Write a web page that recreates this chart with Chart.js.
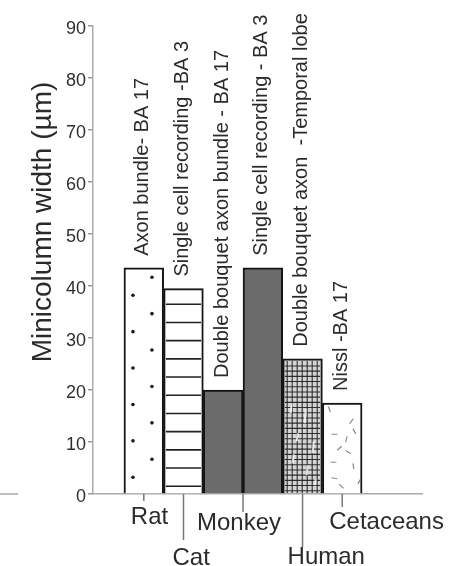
<!DOCTYPE html>
<html>
<head>
<meta charset="utf-8">
<script src="https://cdn.jsdelivr.net/npm/chart.js@4/dist/chart.umd.min.js"></script>
<style>
  html, body { margin: 0; padding: 0; background: #fff; }
  #wrap { width: 468px; height: 566px; }
</style>
</head>
<body>
<div id="wrap"><canvas id="c" width="468" height="566"></canvas></div>
<script>
// Method / cortical area behind each measurement
const studies = [
  'Axon bundle- BA 17',
  'Single cell recording -BA 3',
  'Double bouquet axon bundle - BA 17',
  'Single cell recording - BA 3',
  'Double bouquet axon  -Temporal lobe',
  'Nissl -BA 17'
];
// Species each bar belongs to
const species = ['Rat', 'Cat', 'Monkey', 'Monkey', 'Human', 'Cetaceans'];
// Minicolumn width in micrometres
const widthsUm = [43.5, 39.5, 20, 43.5, 26, 17.5];
// Value axis ticks
const yTicks = [0, 10, 20, 30, 40, 50, 60, 70, 80, 90];
// Species names shown under the axis
const speciesNames = ['Rat', 'Cat', 'Monkey', 'Human', 'Cetaceans'];

// ---- styling ----
const FONT = '"Liberation Sans", Arial, Helvetica, sans-serif';
const INK = '#2b2b2b';
const fillKinds = ['dots', 'hlines', 'solid', 'solid', 'mesh', 'flecks'];
const baseColors = ['#ffffff', '#ffffff', '#6b6b6b', '#6b6b6b', '#d4d4d4', '#ffffff'];
// placement of species names: horizontal shift from tick, baseline below axis, tick length
const nameLayout = {
  Rat:       { dx: -13, base: 30, tick: 7 },
  Cat:       { dx: -11, base: 71, tick: 46 },
  Monkey:    { dx: -46, base: 36, tick: 18 },
  Human:     { dx: -15, base: 70, tick: 53 },
  Cetaceans: { dx: -13, base: 35, tick: 13 }
};
// short strokes scattered inside the cetacean bar: [dx, height above base, angle(deg)]
const flecks = [[5,84,70],[27,72,-50],[10,59,0],[30,62,60],[15,45,-40],[24,41,30],
                [9,31,0],[29,27,80],[35,12,-60],[10,15,10],[17,7,45],[22,54,-75]];
// light streaks breaking up the human mesh: [dx, height above base, length]
const meshGaps = [[6,80,10],[20,70,14],[12,52,8],[28,40,12],[8,30,9],[22,18,10],[30,8,6]];

function paintFill(ctx, kind, l, t, r, b) {
  ctx.save();
  ctx.beginPath();
  ctx.rect(l, t, r - l, b - t);
  ctx.clip();
  if (kind === 'dots') {
    ctx.fillStyle = '#1a1a1a';
    const dot = (x, y) => { if (y > t + 3) { ctx.beginPath(); ctx.arc(x, y, 1.8, 0, Math.PI * 2); ctx.fill(); } };
    for (let k = 0; k < 20; k++) {
      dot(l + 7, b - 16 - k * 36.4);
      dot(l + 26, b - 34 - k * 36.4);
    }
  } else if (kind === 'hlines') {
    ctx.strokeStyle = '#222';
    ctx.lineWidth = 1.6;
    for (let y = b - 7; y > t + 5; y -= 18.2) {
      ctx.beginPath(); ctx.moveTo(l, y); ctx.lineTo(r, y); ctx.stroke();
    }
  } else if (kind === 'mesh') {
    ctx.strokeStyle = 'rgba(30,30,30,0.9)';
    ctx.lineWidth = 1.1;
    for (let x = l + 2.5; x < r; x += 5) {
      ctx.beginPath(); ctx.moveTo(x, t); ctx.lineTo(x, b); ctx.stroke();
    }
    for (let y = b - 2.5; y > t; y -= 5.2) {
      ctx.beginPath(); ctx.moveTo(l, y); ctx.lineTo(r, y); ctx.stroke();
    }
    ctx.strokeStyle = 'rgba(245,245,245,0.85)';
    ctx.lineWidth = 2;
    meshGaps.forEach(([dx, up, len]) => {
      const x = l + dx, y = b - up;
      if (y - len < t) return;
      ctx.beginPath(); ctx.moveTo(x, y); ctx.lineTo(x + 1, y - len); ctx.stroke();
    });
  } else if (kind === 'flecks') {
    ctx.strokeStyle = '#8a8a8a';
    ctx.lineWidth = 1.2;
    flecks.forEach(([dx, up, deg]) => {
      const cx = l + dx, cy = b - up;
      if (cy < t + 3) return;
      const a = deg * Math.PI / 180, h = 3;
      ctx.beginPath();
      ctx.moveTo(cx - Math.cos(a) * h, cy - Math.sin(a) * h);
      ctx.lineTo(cx + Math.cos(a) * h, cy + Math.sin(a) * h);
      ctx.stroke();
    });
  }
  ctx.restore();
}

const decorations = {
  id: 'decorations',
  afterDatasetsDraw(chart) {
    const ctx = chart.ctx;
    const meta = chart.getDatasetMeta(0);
    const xs = chart.scales.x;
    const ys = chart.scales.y;
    const bw = 2;

    meta.data.forEach((el, i) => {
      const p = el.getProps(['x', 'y', 'base', 'width'], true);
      const l = p.x - p.width / 2 + bw, r = p.x + p.width / 2 - bw;
      paintFill(ctx, fillKinds[i], l, p.y + bw, r, p.base);

      // study label, written upward from the top of the bar
      ctx.save();
      ctx.translate(p.x - 1, p.y - 12);
      ctx.rotate(-Math.PI / 2);
      ctx.font = '20px ' + FONT;
      ctx.fillStyle = INK;
      ctx.textAlign = 'left';
      ctx.textBaseline = 'middle';
      ctx.fillText(studies[i], 0, 0);
      ctx.restore();
    });

    // species ticks and names under the axis
    const axisY = ys.getPixelForValue(0);
    speciesNames.forEach(name => {
      const idx = species.map((s, i) => s === name ? i : -1).filter(i => i >= 0);
      const pos = idx.reduce((a, b) => a + b, 0) / idx.length;
      const px = xs.getPixelForValue(pos);
      const lay = nameLayout[name];
      ctx.save();
      ctx.strokeStyle = '#777';
      ctx.lineWidth = 1.5;
      ctx.beginPath();
      ctx.moveTo(px, axisY);
      ctx.lineTo(px, axisY + lay.tick);
      ctx.stroke();
      ctx.font = '24px ' + FONT;
      ctx.fillStyle = INK;
      ctx.textAlign = 'left';
      ctx.textBaseline = 'alphabetic';
      ctx.fillText(name, px + lay.dx, axisY + lay.base);
      ctx.restore();
    });

    // short stub of baseline at the far left edge
    ctx.save();
    ctx.strokeStyle = '#bdbdbd';
    ctx.lineWidth = 2;
    ctx.beginPath();
    ctx.moveTo(0, axisY);
    ctx.lineTo(18, axisY);
    ctx.stroke();
    ctx.restore();

    // value axis title
    ctx.save();
    ctx.translate(43, 222);
    ctx.rotate(-Math.PI / 2);
    ctx.font = '28px ' + FONT;
    ctx.fillStyle = INK;
    ctx.textAlign = 'center';
    ctx.textBaseline = 'middle';
    ctx.fillText('Minicolumn width (\u00b5m)', 0, 0);
    ctx.restore();
  }
};

new Chart(document.getElementById('c'), {
  type: 'bar',
  data: {
    datasets: [{
      data: widthsUm.map((v, i) => ({ x: i, y: v })),
      backgroundColor: baseColors,
      borderColor: '#151515',
      borderWidth: 2,
      barPercentage: 1,
      categoryPercentage: 1
    }]
  },
  options: {
    responsive: false,
    animation: false,
    layout: { padding: { top: 26, right: 46, bottom: 0, left: 0 } },
    plugins: { legend: { display: false }, tooltip: { enabled: false } },
    scales: {
      x: {
        type: 'linear',
        min: -1.28,
        max: 7.01,
        offset: false,
        afterBuildTicks: s => { s.ticks = studies.map((_, i) => ({ value: i })); },
        afterFit: s => { s.height = 72; },
        ticks: { display: false },
        grid: { display: false },
        border: { display: true, color: '#aaaaaa', width: 1.5 }
      },
      y: {
        min: 0,
        max: 90,
        afterBuildTicks: s => { s.ticks = yTicks.map(v => ({ value: v })); },
        afterFit: s => { s.width = 93; },
        grid: { drawOnChartArea: false, tickLength: 5, color: '#999', lineWidth: 1.5 },
        border: { color: '#aaaaaa', width: 1.5 },
        ticks: { font: { family: FONT, size: 18 }, color: '#2f2f2f', padding: 2, labelOffset: 3 }
      }
    }
  },
  plugins: [decorations]
});
</script>
</body>
</html>
